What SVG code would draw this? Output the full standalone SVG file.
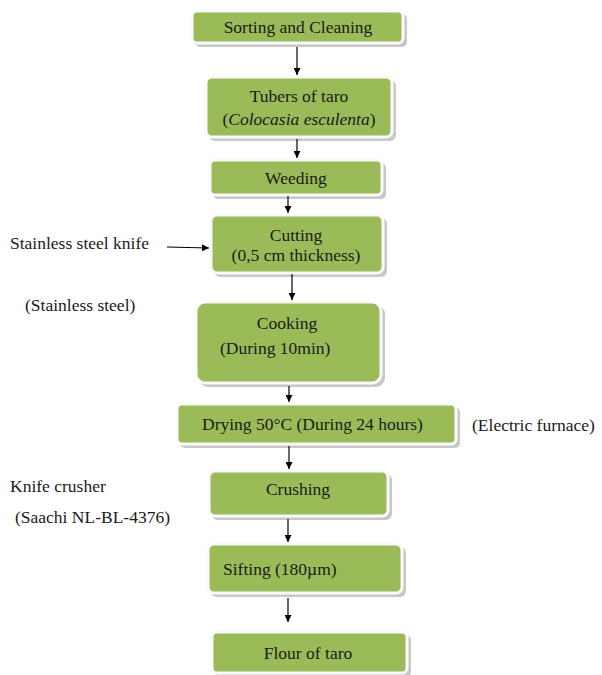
<svg xmlns="http://www.w3.org/2000/svg" width="602" height="675" viewBox="0 0 602 675">
<defs>
<marker id="ah" viewBox="0 0 10 10" refX="10" refY="5" markerWidth="7" markerHeight="7" orient="auto" markerUnits="userSpaceOnUse"><path d="M0,0 L10,5 L0,10 z" fill="#000"/></marker>
</defs>
<style>
.sh{fill:#c8c8c8;}
.bx{fill:#9bbb59;stroke:#fafafa;stroke-width:3;}
text{font-family:'Liberation Serif','Times New Roman','DejaVu Serif',serif;font-size:17.5px;fill:#1a1a1a;}
.c{text-anchor:middle;}
.cn{stroke:#000;stroke-width:1.2;fill:none;marker-end:url(#ah);}
</style>
<rect width="602" height="675" fill="#fff"/>
<g id="n1"><rect class="sh" x="195" y="14" width="212" height="33" rx="5"/><rect class="bx" x="192" y="11" width="211" height="32" rx="5"/><text class="c" x="298" y="33">Sorting and Cleaning</text></g>
<g id="n2"><rect class="sh" x="209" y="80" width="187" height="61" rx="6"/><rect class="bx" x="206" y="77" width="186" height="60" rx="6"/><text class="c" x="299" y="102">Tubers of taro</text><text class="c" x="299" y="125">(<tspan font-style="italic">Colocasia esculenta</tspan>)</text></g>
<g id="n3"><rect class="sh" x="213" y="163" width="173" height="36" rx="5"/><rect class="bx" x="210" y="160" width="172" height="35" rx="5"/><text class="c" x="296" y="184">Weeding</text></g>
<g id="n4"><rect class="sh" x="214" y="218" width="173" height="59" rx="6"/><rect class="bx" x="211" y="215" width="172" height="58" rx="6"/><text class="c" x="296" y="241">Cutting</text><text class="c" x="296" y="261">(0,5 cm thickness)</text></g>
<g id="n5"><rect class="sh" x="199" y="305" width="186" height="82" rx="9"/><rect class="bx" x="196" y="302" width="185" height="81" rx="9"/><text class="c" x="287" y="329">Cooking</text><text x="220" y="354">(During 10min)</text></g>
<g id="n6"><rect class="sh" x="180" y="407" width="280" height="41" rx="5"/><rect class="bx" x="177" y="404" width="279" height="40" rx="5"/><text x="202" y="430">Drying 50°C (During 24 hours)</text></g>
<g id="n7"><rect class="sh" x="212" y="474" width="180" height="46" rx="6"/><rect class="bx" x="209" y="471" width="179" height="45" rx="6"/><text class="c" x="298" y="495">Crushing</text></g>
<g id="n8"><rect class="sh" x="211" y="547" width="195" height="50" rx="6"/><rect class="bx" x="208" y="544" width="194" height="49" rx="6"/><text x="223" y="575">Sifting (180µm)</text></g>
<g id="n9"><rect class="sh" x="215" y="635" width="196" height="42" rx="5"/><rect class="bx" x="212" y="632" width="195" height="41" rx="5"/><text class="c" x="308" y="659">Flour of taro</text></g>
<g id="labels">
<text x="10" y="249">Stainless steel knife</text>
<text x="25" y="311">(Stainless steel)</text>
<text x="472" y="431">(Electric furnace)</text>
<text x="10" y="492">Knife crusher</text>
<text x="15" y="523">(Saachi NL-BL-4376)</text>
</g>
<g id="connectors">
<line class="cn" x1="297" y1="47" x2="297" y2="75"/>
<line class="cn" x1="297" y1="139" x2="297" y2="158"/>
<line class="cn" x1="288" y1="196" x2="288" y2="213"/>
<line class="cn" x1="167" y1="247" x2="209" y2="248"/>
<line class="cn" x1="292" y1="274" x2="292" y2="300"/>
<line class="cn" x1="289" y1="386" x2="289" y2="402"/>
<line class="cn" x1="289" y1="446" x2="289" y2="469"/>
<line class="cn" x1="288" y1="519" x2="288" y2="542"/>
<line class="cn" x1="288" y1="598" x2="288" y2="622"/>
</g>
</svg>
